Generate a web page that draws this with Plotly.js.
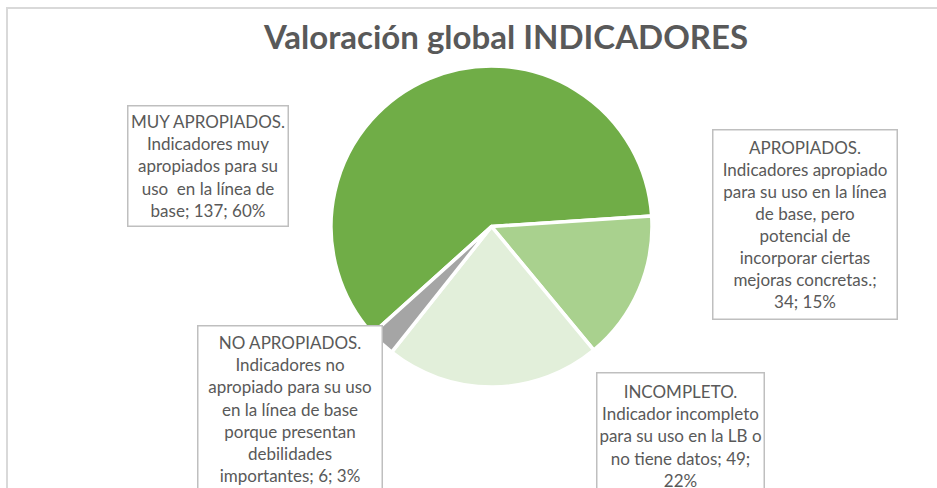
<!DOCTYPE html>
<html>
<head>
<meta charset="utf-8">
<script src="https://cdn.plot.ly/plotly-3.0.1.min.js"></script>
<style>
  html, body { margin: 0; padding: 0; background: #ffffff; }
  #chart { width: 937px; height: 488px; }
</style>
</head>
<body>
<div id="chart"></div>
<script>
// ---- data ----
const chartTitle = "Valoración global INDICADORES";
// category names, with the line breaks used in the reference's data labels
const categories = [
  "MUY APROPIADOS.<br>Indicadores muy<br>apropiados para su<br>uso  en la línea de<br>base",
  "APROPIADOS.<br>Indicadores apropiado<br>para su uso en la línea<br>de base, pero<br>potencial de<br>incorporar ciertas<br>mejoras concretas.",
  "INCOMPLETO.<br>Indicador incompleto<br>para su uso en la LB o<br>no tiene datos",
  "NO APROPIADOS.<br>Indicadores no<br>apropiado para su uso<br>en la línea de base<br>porque presentan<br>debilidades<br>importantes"
];
const values = [137, 34, 49, 6];
const percents = [60, 15, 22, 3];
// separators between name/value and value/percent in each label
const sepNameValue = ["; ", ";<br>", "; ", "; "];
const sepValuePct = ["; ", "; ", ";<br>", "; "];
const sliceColors = ["#70AD47", "#A9D18E", "#E2EFDA", "#A5A5A5"];

// ---- layout helpers ----
const W = 937, H = 488;
const FONT = "Lato, 'Open Sans', sans-serif";
const FSIZE = 17;
const TEXTCOL = "#595959";

// label boxes (left, top, width, height) in pixels
const boxes = [
  [127, 105, 162, 122],
  [712, 129, 186, 191],
  [596, 372, 169, 128],
  [197, 325, 186, 168]
];
const PAD = 1, BW = 1.5;

const annotations = categories.map((c, i) => {
  const b = boxes[i];
  const txt = c + sepNameValue[i] + values[i] + sepValuePct[i] + percents[i] + "%";
  return {
    xref: "paper", yref: "paper",
    x: b[0] / W, y: 1 - b[1] / H,
    xanchor: "left", yanchor: "top",
    width: b[2] - 2 * (PAD + BW), height: b[3] - 2 * (PAD + BW),
    valign: "middle", align: "center",
    showarrow: false,
    text: txt,
    font: { family: FONT, size: FSIZE, color: TEXTCOL },
    bgcolor: "#ffffff",
    bordercolor: "#BFBFBF",
    borderwidth: BW,
    borderpad: PAD
  };
});

const trace = {
  type: "pie",
  labels: categories,
  values: values,
  sort: false,
  direction: "clockwise",
  rotation: 228,
  marker: { colors: sliceColors, line: { color: "#ffffff", width: 3.5 } },
  textinfo: "none",
  hoverinfo: "label+value+percent",
  showlegend: false,
  domain: { x: [331 / W, 652 / W], y: [(H - 387) / H, (H - 66) / H] }
};

const layout = {
  width: W, height: H,
  margin: { l: 0, r: 0, t: 0, b: 0 },
  paper_bgcolor: "#ffffff",
  showlegend: false,
  title: {
    text: "<b>" + chartTitle + "</b>",
    font: { family: FONT, size: 33, color: TEXTCOL },
    x: 506 / W, xanchor: "center",
    y: 1 - 37 / H, yanchor: "middle"
  },
  shapes: [{
    type: "rect", xref: "paper", yref: "paper",
    x0: 7 / W, x1: 1.05, y0: -0.05, y1: 1 - 8 / H,
    line: { color: "#D9D9D9", width: 2 },
    layer: "below"
  }],
  annotations: annotations
};

Plotly.newPlot("chart", [trace], layout, { displayModeBar: false, staticPlot: true });
</script>
</body>
</html>
